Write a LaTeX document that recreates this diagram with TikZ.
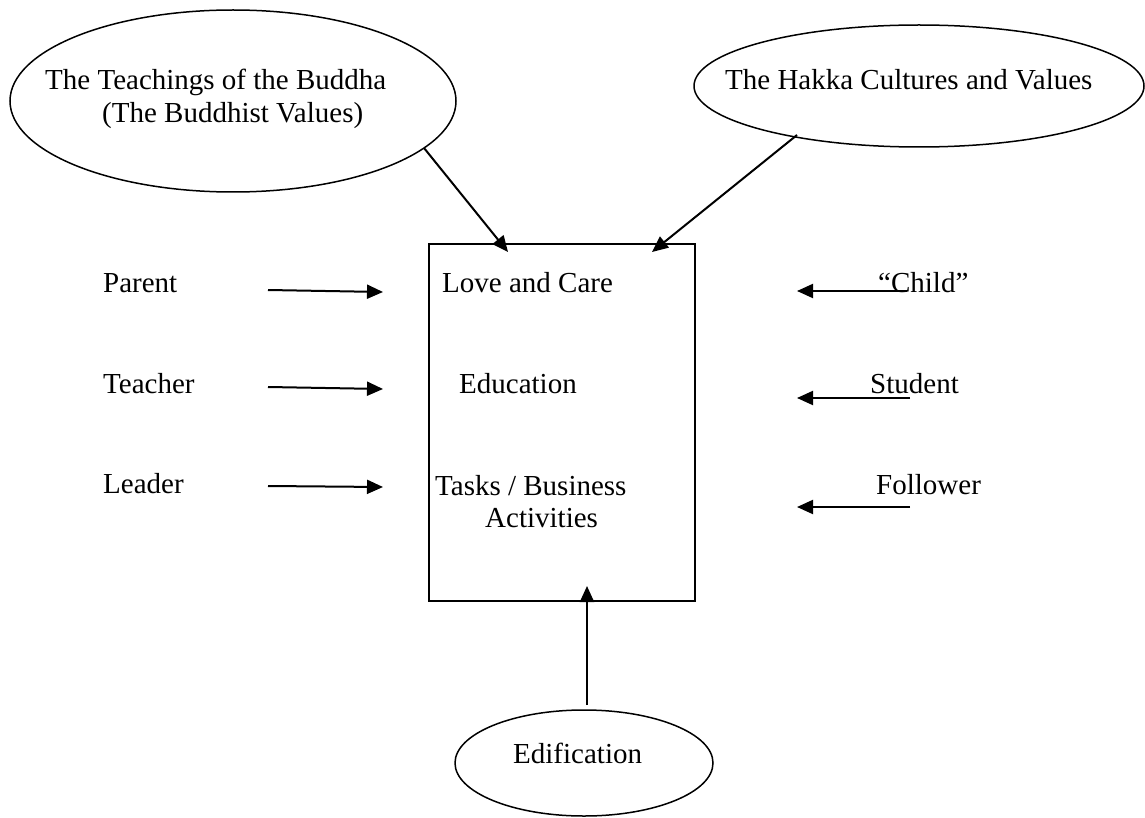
\documentclass[tikz,border=0pt]{standalone}
\usepackage{fontspec}
\setmainfont{Liberation Serif}
\usetikzlibrary{shapes.geometric,arrows.meta}
\begin{document}
\begin{tikzpicture}[x=1pt,y=-1pt,
  lbl/.style={anchor=base west,inner sep=0pt,font=\fontsize{29}{33}\selectfont},
  oval/.style={draw,ellipse,line width=1.5pt,inner sep=0pt},
  conn/.style={line width=2pt,-{Triangle[length=16pt,width=14pt]}}]
\useasboundingbox (0,0) rectangle (1145,818);
% ellipses
\node[oval,minimum width=446pt,minimum height=182pt] (e1) at (233,101) {};
\node[oval,minimum width=450pt,minimum height=122pt] (e2) at (919,86) {};
\node[oval,minimum width=258pt,minimum height=106pt] (e3) at (584,763) {};
% central box
\node[draw,line width=2pt,minimum width=266pt,minimum height=357pt,inner sep=0pt] (box) at (562,422.5) {};
% texts
\node[lbl] (t1a) at (45,90) {The Teachings of the Buddha};
\node[lbl] (t1b) at (102,123) {(The Buddhist Values)};
\node[lbl] (t2) at (725,90) {The Hakka Cultures and Values};
\node[lbl] (t3) at (513,763) {Edification};
\node[lbl] (parent) at (103,292) {Parent};
\node[lbl] (teacher) at (103,393) {Teacher};
\node[lbl] (leader) at (103,493) {Leader};
\node[lbl] (love) at (442,292) {Love and Care};
\node[lbl] (edu) at (459,393) {Education};
\node[lbl] (tasks) at (435,495) {Tasks / Business};
\node[lbl] (act) at (485,527) {Activities};
\node[lbl] (child) at (878,292) {“Child”};
\node[lbl] (student) at (870,393) {Student};
\node[lbl] (follower) at (876,494) {Follower};
% connector end points
\coordinate (a1s) at (424,148);
\coordinate (a1e) at (508,252);
\coordinate (a2s) at (797,135);
\coordinate (a2e) at (652,252);
\coordinate (a3s) at (587,705);
\coordinate (a3e) at (587,586);
\coordinate (pl1) at (268,290); \coordinate (pl2) at (383,292);
\coordinate (tl1) at (268,387); \coordinate (tl2) at (383,389);
\coordinate (ll1) at (268,486); \coordinate (ll2) at (383,487);
\coordinate (cr1) at (907,291); \coordinate (cr2) at (797,291);
\coordinate (sr1) at (910,398); \coordinate (sr2) at (797,398);
\coordinate (fr1) at (910,507); \coordinate (fr2) at (797,507);
% connectors
\draw[conn] (a1s) -- (a1e);
\draw[conn] (a2s) -- (a2e);
\draw[conn] (a3s) -- (a3e);
\draw[conn] (pl1) -- (pl2);
\draw[conn] (tl1) -- (tl2);
\draw[conn] (ll1) -- (ll2);
\draw[conn] (cr1) -- (cr2);
\draw[conn] (sr1) -- (sr2);
\draw[conn] (fr1) -- (fr2);
\end{tikzpicture}
\end{document}
